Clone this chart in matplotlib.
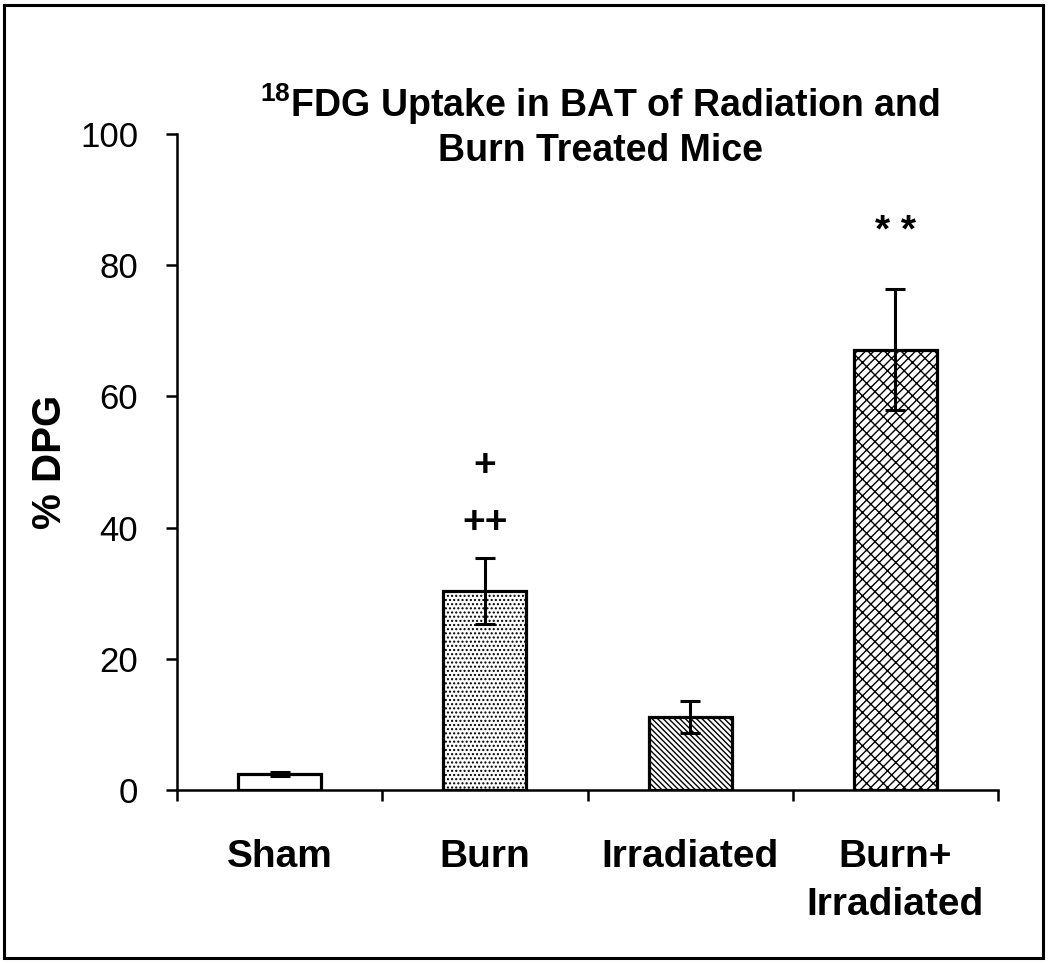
import matplotlib
matplotlib.use("Agg")
import matplotlib.pyplot as plt
from matplotlib.patches import Rectangle
import numpy as np

categories = ["Sham", "Burn", "Irradiated", "Burn+\nIrradiated"]
values = [2.5, 30.3, 11.1, 67.1]
errors = [0.3, 5.0, 2.4, 9.2]
hatches = ["", "....", "\\\\\\\\\\\\", "////\\\\"]
annotations = ["", "+\n++", "", "* *"]
annot_y = [0, 45.0, 0, 85.0]
yticks = [0, 20, 40, 60, 80, 100]

plt.rcParams['font.family'] = ['Liberation Sans', 'DejaVu Sans']
plt.rcParams['mathtext.fontset'] = 'custom'
plt.rcParams['mathtext.rm'] = 'Liberation Sans:bold'
plt.rcParams['mathtext.bf'] = 'Liberation Sans:bold'
plt.rcParams['hatch.linewidth'] = 1.0

fig = plt.figure(figsize=(10.5, 9.63), dpi=100)
ax = fig.add_axes([177/1050, 1-790/963, (998-177)/1050, (790-134)/963])

x = np.arange(1, len(categories)+1)
bars = ax.bar(x, values, width=0.405, color="white", edgecolor="black",
              linewidth=2.3, zorder=2)
for b, h in zip(bars, hatches):
    b.set_hatch(h)
ax.errorbar(x, values, yerr=errors, fmt="none", ecolor="black",
            elinewidth=2.2, capsize=7, capthick=2.2, zorder=3)

for xi, txt, yy in zip(x, annotations, annot_y):
    if txt:
        ax.text(xi, yy, txt, ha="center", va="center", fontsize=28,
                fontweight="bold", linespacing=1.75)

ax.set_xlim(0.5, 4.5)
ax.set_ylim(0, 100)
ax.set_yticks(yticks)
ax.tick_params(axis="y", direction="out", length=8, width=1.8, labelsize=25, pad=20)
ax.set_xticks(x)
ax.set_xticklabels(categories, fontsize=28, fontweight="bold", linespacing=1.45)
ax.tick_params(axis="x", which="major", length=0, pad=35)
ax.set_xticks(np.arange(0.5, 4.6, 1.0), minor=True)
ax.tick_params(axis="x", which="minor", direction="out", length=8, width=1.8)

for s in ["top", "right"]:
    ax.spines[s].set_visible(False)
for s in ["left", "bottom"]:
    ax.spines[s].set_linewidth(1.8)

ax.set_ylabel("% DPG", fontsize=29, fontweight="bold", labelpad=8)

fig.text(600/1050, 1-125/963,
         r"$^{18}$FDG Uptake in BAT of Radiation and" + "\nBurn Treated Mice",
         ha="center", va="center", fontsize=27, fontweight="bold",
         multialignment="center", linespacing=1.2)

fig.patches.append(Rectangle((4/1050, 5/963), (1043-4)/1050, (958-5)/963,
                             transform=fig.transFigure, fill=False,
                             edgecolor="black", linewidth=2.2))

fig.savefig("out.png", dpi=100)
